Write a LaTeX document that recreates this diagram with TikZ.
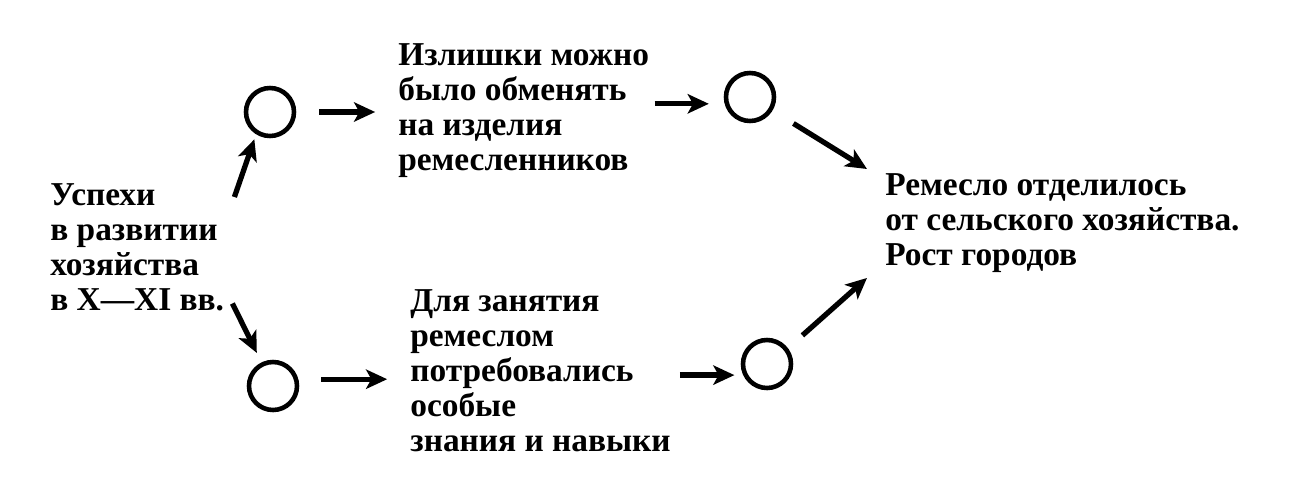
\documentclass[tikz,border=0pt]{standalone}
\usepackage{fontspec}
\setmainfont{Liberation Serif}
\usetikzlibrary{arrows.meta,positioning}

\begin{document}
\begin{tikzpicture}[x=0.02cm, y=-0.02cm,
  circ/.style={circle, draw, line width=2.6pt, minimum size=0.96cm, inner sep=0},
  txt/.style={align=left, anchor=north west, inner sep=0, font=\bfseries\fontsize{19}{20}\selectfont},
  arr/.style={line width=3pt, -{Stealth[length=12pt,width=11pt,inset=3pt]}}]
\useasboundingbox (0,0) rectangle (1302,491);
%texts
\node[txt] (src) at (50,183) {Успехи\\в развитии\\хозяйства\\в X—XI вв.};
\node[txt] (exch) at (398,43) {Излишки можно\\было обменять\\на изделия\\ремесленников};
\node[txt] (skill) at (410,289) {Для занятия\\ремеслом\\потребовались\\особые\\знания и навыки};
\node[txt] (res) at (885,173) {Ремесло отделилось\\от сельского хозяйства.\\Рост городов};
%circles
\node[circ] (c1) at (270,112) {};
\node[circ] (c2) at (750,97) {};
\node[circ] (c3) at (273,386) {};
\node[circ] (c4) at (767,364) {};
%upper branch
\draw[arr, shorten >=3pt] ([shift={(10,14)}]src.north east) -- (c1.238);
\draw[arr, shorten <=13pt, shorten >=13pt] (c1.east) -- (c1.east -| exch.west);
\draw[arr, shorten <=3pt, shorten >=9pt] (c2.195 -| exch.east) -- (c2.195);
\draw[arr, shorten <=14pt] (c2.-31) -- ([shift={(-18,-4)}]res.north west);
%lower branch
\draw[arr, shorten >=6pt] ([shift={(8,-8)}]src.south east) -- (c3.116);
\draw[arr, shorten <=13pt, shorten >=13pt] (c3.15) -- (c3.15 -| skill.west);
\draw[arr, shorten <=5pt, shorten >=5pt] (c4.205 -| skill.east) -- (c4.205);
\draw[arr, shorten <=11pt] (c4.37) -- ([shift={(-18,5)}]res.south west);
\end{tikzpicture}
\end{document}
